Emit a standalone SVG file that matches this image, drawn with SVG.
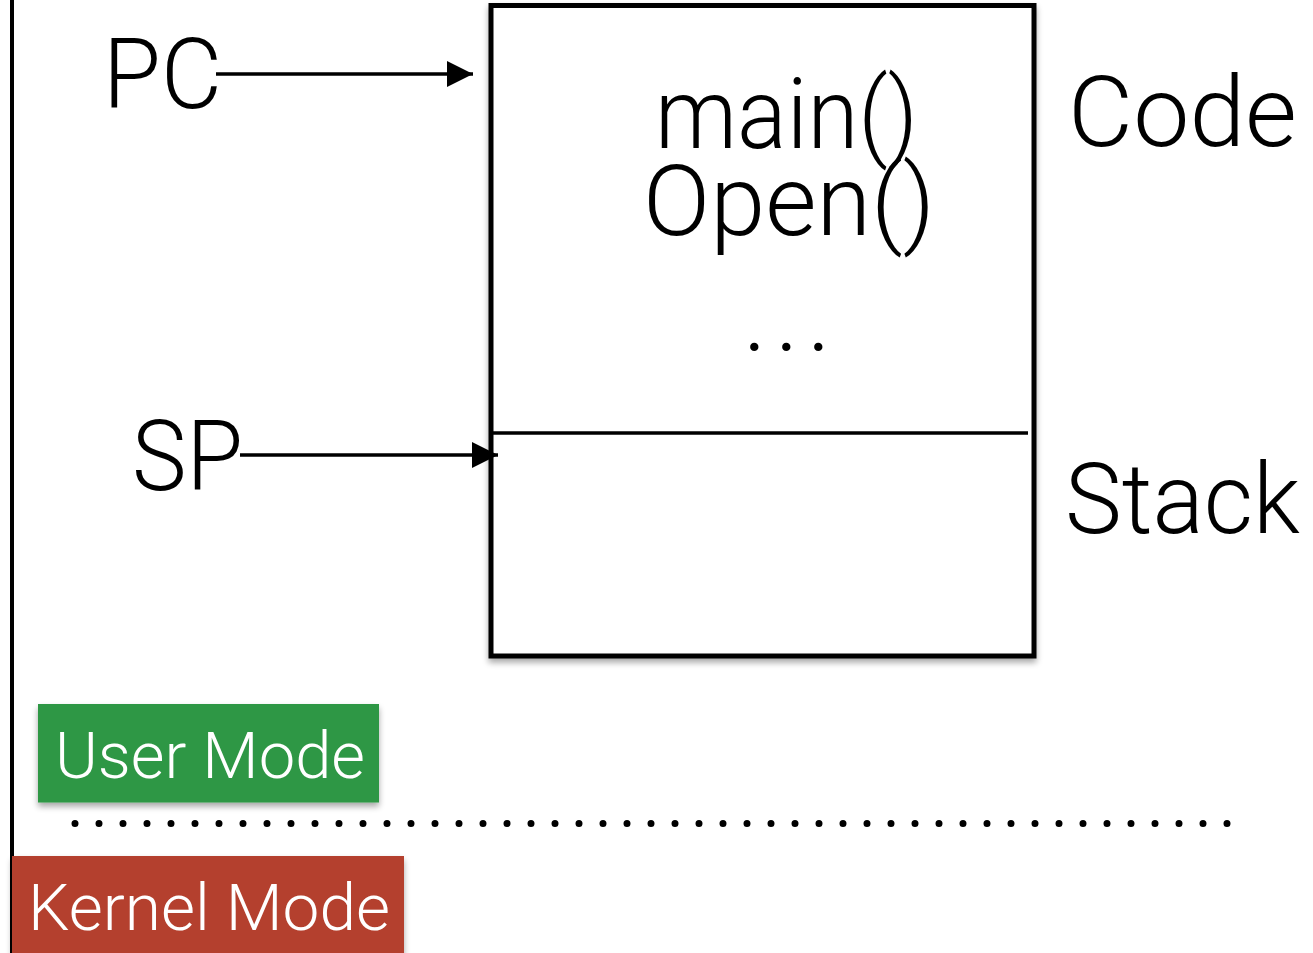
<svg xmlns="http://www.w3.org/2000/svg" width="1313" height="953" viewBox="0 0 1313 953">
  <style>
    .lbl { font-family: Roboto, Lato, "Liberation Sans", sans-serif; font-weight: 300; fill: #000; }
    .mode { font-family: Roboto, Lato, "Liberation Sans", sans-serif; font-weight: 300; fill: #fff; }
    .wire { stroke: #000; stroke-width: 3.5; fill: none; }
  </style>
  <defs>
    <marker id="head" viewBox="0 0 26 26" refX="26" refY="13" markerUnits="userSpaceOnUse" markerWidth="26" markerHeight="26" orient="auto">
      <path d="M0,0 L26,13 L0,26 Z" fill="#000"/>
    </marker>
    <filter id="shadow" x="-10%" y="-10%" width="125%" height="125%">
      <feGaussianBlur in="SourceAlpha" stdDeviation="3"/>
      <feOffset dx="0" dy="4" result="b"/>
      <feComponentTransfer><feFuncA type="linear" slope="0.35"/></feComponentTransfer>
      <feMerge><feMergeNode/><feMergeNode in="SourceGraphic"/></feMerge>
    </filter>
  </defs>

  <rect width="1313" height="953" fill="#fff"/>

  <!-- left boundary -->
  <line x1="12" y1="0" x2="12" y2="953" stroke="#000" stroke-width="4"/>

  <!-- process memory: code + stack -->
  <g id="memory">
    <rect x="491" y="5.5" width="543" height="650.5" fill="#fff" stroke="#000" stroke-width="5" filter="url(#shadow)"/>
    <line x1="493" y1="433" x2="1028" y2="433" stroke="#000" stroke-width="3.5"/>
    <text class="lbl" x="786.5" y="148" font-size="98" text-anchor="middle" textLength="263" lengthAdjust="spacingAndGlyphs">main()</text>
    <text class="lbl" x="789" y="235" font-size="98" text-anchor="middle" textLength="292" lengthAdjust="spacingAndGlyphs">Open()</text>
    <text class="lbl" x="787" y="351" font-size="100" font-weight="700" text-anchor="middle" textLength="88" lengthAdjust="spacing">...</text>
  </g>

  <g id="code-label">
    <text class="lbl" x="1068" y="146" font-size="98" textLength="229" lengthAdjust="spacingAndGlyphs">Code</text>
  </g>
  <g id="stack-label">
    <text class="lbl" x="1065" y="533" font-size="98" textLength="235" lengthAdjust="spacingAndGlyphs">Stack</text>
  </g>

  <g id="pc">
    <text class="lbl" x="103" y="108" font-size="98" textLength="119" lengthAdjust="spacingAndGlyphs">PC</text>
  </g>
  <g id="sp">
    <text class="lbl" x="132" y="490" font-size="98" textLength="111" lengthAdjust="spacingAndGlyphs">SP</text>
  </g>

  <!-- register pointers -->
  <g id="connectors">
    <line class="wire" x1="216" y1="74" x2="473" y2="74" marker-end="url(#head)"/>
    <line class="wire" x1="240" y1="455" x2="498" y2="455" marker-end="url(#head)"/>
  </g>

  <g id="user-mode">
    <rect x="38" y="704" width="341" height="98.5" fill="#2f9744" filter="url(#shadow)"/>
    <text class="mode" x="55" y="778" font-size="65" textLength="310" lengthAdjust="spacingAndGlyphs">User Mode</text>
  </g>

  <!-- mode boundary -->
  <line x1="75" y1="823.5" x2="1228" y2="823.5" stroke="#000" stroke-width="7" stroke-linecap="round" stroke-dasharray="0 24"/>

  <g id="kernel-mode">
    <rect x="12" y="856" width="392" height="110" fill="#b4412f" filter="url(#shadow)"/>
    <text class="mode" x="28" y="930" font-size="65" textLength="362" lengthAdjust="spacingAndGlyphs">Kernel Mode</text>
  </g>
</svg>
